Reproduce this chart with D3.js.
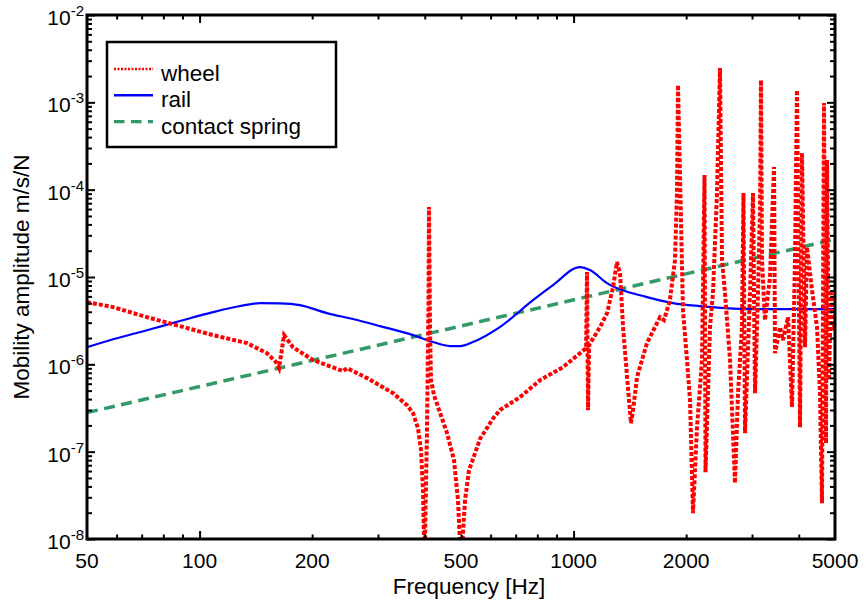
<!DOCTYPE html>
<html><head><meta charset="utf-8">
<script src="https://cdn.jsdelivr.net/npm/d3@7"></script>
<style>
body{margin:0;background:#fff}
svg{display:block}
text{font-family:"Liberation Sans",Arial,Helvetica,sans-serif;fill:#000}
</style>
</head><body>
<svg id="chart" width="866" height="603"></svg>
<script>
// ---------- data ----------
const xTickValues = [50, 100, 200, 500, 1000, 2000, 5000];
const xTickLabels = ["50", "100", "200", "500", "1000", "2000", "5000"];
const xMajorTicks = [100, 1000];
const xMinorTicks = [60, 70, 80, 90, 200, 300, 400, 500, 600, 700, 800, 900, 2000, 3000, 4000];
const yTickExponents = [-8, -7, -6, -5, -4, -3, -2];

const seriesNames = ["wheel", "rail", "contact spring"];

const railFreq = [50, 58.7, 72.3, 88.6, 108.6, 128.3, 145.1, 164, 185.6, 219,
  257, 303.6, 372, 421, 467, 497, 538, 635, 779, 881,
  1040, 1106, 1228, 1571, 1845, 2177, 2964, 4029, 5000];
const railAmp = [1.57e-6, 1.94e-6, 2.46e-6, 3.13e-6, 3.96e-6, 4.65e-6, 5.03e-6, 5.0e-6, 4.77e-6, 3.86e-6,
  3.30e-6, 2.74e-6, 2.16e-6, 1.80e-6, 1.62e-6, 1.62e-6, 1.80e-6, 2.67e-6, 5.43e-6, 8.07e-6,
  1.30e-5, 1.20e-5, 8.51e-6, 5.89e-6, 5.03e-6, 4.64e-6, 4.29e-6, 4.29e-6, 4.29e-6];

const springFreq = [50, 5000];
const springAmp = [2.8e-7, 2.7e-5];

const wheelFreq = [
  50, 58.7, 72.3, 88.6, 108.6, 133.9, 151.4, 160.1, 163.1, 168.2,
  177.7, 201.1, 241.8, 247.9, 280.4, 329, 358.5, 372.1, 383.7, 390.8,
  395.7, 399.4, 405.6, 409.4, 410.6, 413.2, 415.7, 423.4, 458.8, 478.9,
  490.9, 500, 512.5, 525.3, 562.2, 609, 635.8, 719.3, 813.2, 936.9,
  1040, 1080, 1086, 1093, 1100, 1177, 1229, 1275, 1306, 1331,
  1356, 1390, 1424, 1442, 1478, 1571, 1702, 1745, 1810, 1867,
  1890, 1902, 1926, 1961, 2010, 2048, 2086, 2138, 2205, 2239,
  2253, 2316, 2359, 2418, 2463, 2494, 2540, 2620, 2701, 2752,
  2820, 2846, 2873, 2963, 3018, 3056, 3112, 3151, 3170, 3190,
  3249, 3351, 3435, 3456, 3564, 3631, 3744, 3837, 3908, 3957,
  4031, 4081, 4157, 4208, 4340, 4476, 4559, 4615, 4673, 4730,
  4760, 4819, 4878, 4939, 5000];
const wheelAmp = [
  5.16e-6, 4.52e-6, 3.47e-6, 2.74e-6, 2.16e-6, 1.75e-6, 1.34e-6, 1.06e-6, 9.05e-7, 2.16e-6,
  1.57e-6, 1.12e-6, 8.36e-7, 9.05e-7, 6.95e-7, 4.68e-7, 3.41e-7, 2.76e-7, 1.86e-7, 1.04e-7,
  3.62e-8, 5e-9, 1.76e-7, 5.43e-6, 6.32e-5, 2.46e-6, 6.59e-7, 4.44e-7, 1.63e-7, 8.0e-8,
  2.78e-8, 5e-9, 2.78e-8, 6.14e-8, 1.4e-7, 2.4e-7, 3.0e-7, 4.21e-7, 6.59e-7, 9.29e-7,
  1.34e-6, 1.53e-6, 1.14e-5, 2.99e-7, 1.66e-6, 2.67e-6, 3.86e-6, 7.66e-6, 1.48e-5, 1.11e-5,
  2.67e-6, 7.13e-7, 2.12e-7, 2.99e-7, 7.13e-7, 1.75e-6, 3.47e-6, 3.21e-6, 5.43e-6, 1.56e-5,
  9.14e-5, 1.58e-3, 1.39e-4, 4.18e-6, 1.12e-6, 3.89e-7, 1.98e-8, 1.91e-7, 1.12e-6, 1.47e-4,
  5.82e-8, 2.67e-6, 6.54e-6, 9.14e-5, 2.47e-3, 1.56e-5, 6.54e-6, 1.12e-6, 4.36e-8, 4.68e-7,
  2.67e-6, 9.14e-5, 1.63e-7, 6.54e-6, 9.14e-5, 4.68e-7, 6.54e-6, 5.83e-5, 1.80e-3, 1.56e-5,
  3.21e-6, 9.97e-6, 1.82e-4, 1.34e-6, 2.67e-6, 1.89e-6, 3.47e-6, 3.24e-7, 1.56e-5, 1.38e-3,
  1.91e-7, 2.63e-4, 1.57e-6, 2.20e-5, 7.08e-6, 2.67e-6, 4.68e-7, 2.57e-8, 9.82e-4, 1.25e-7,
  2.18e-4, 6.59e-7, 7.08e-6, 2.46e-6, 2.96e-6];

// ---------- layout ----------
const svg = d3.select("#chart");
const L = 87, R = 835, T = 15, B = 539;
const x = d3.scaleLog().domain([50, 5000]).range([L, R]);
const y = d3.scaleLog().domain([1e-8, 1e-2]).range([B, T]);

const zip = (a, b) => a.map((v, i) => [v, b[i]]);
const line = d3.line().x(d => x(d[0])).y(d => y(d[1]));

svg.append("defs").append("clipPath").attr("id", "clip")
  .append("rect").attr("x", L).attr("y", T).attr("width", R - L).attr("height", B - T);

const plot = svg.append("g").attr("clip-path", "url(#clip)");

plot.append("path").datum(zip(springFreq, springAmp))
  .attr("d", line).attr("fill", "none").attr("stroke", "#339966")
  .attr("stroke-width", 3.5).attr("stroke-dasharray", "11,6.5");

plot.append("path").datum(zip(railFreq, railAmp))
  .attr("d", line.curve(d3.curveMonotoneX)).attr("fill", "none").attr("stroke", "#0000ff")
  .attr("stroke-width", 2.2);
line.curve(d3.curveLinear);

plot.append("path").datum(zip(wheelFreq, wheelAmp))
  .attr("d", line).attr("fill", "none").attr("stroke", "#ff0000")
  .attr("stroke-width", 4).attr("stroke-dasharray", "4,2");

// ---------- axes ----------
const yMajor = yTickExponents.map(e => Math.pow(10, e));
const yMinor = [];
for (let e = -8; e < -2; e++) for (let k = 2; k <= 9; k++) yMinor.push(k * Math.pow(10, e));

function styleAxis(g) {
  g.select(".domain").remove();
  g.selectAll(".tick line").attr("stroke", "#000").attr("stroke-width", 2);
  g.selectAll(".tick text").remove();
}
// bottom & top
svg.append("g").attr("transform", `translate(0,${B})`)
  .call(d3.axisBottom(x).tickValues(xMinorTicks).tickSize(-4.5)).call(styleAxis);
svg.append("g").attr("transform", `translate(0,${B})`)
  .call(d3.axisBottom(x).tickValues(xMajorTicks).tickSize(-8)).call(styleAxis);
svg.append("g").attr("transform", `translate(0,${T})`)
  .call(d3.axisTop(x).tickValues(xMinorTicks).tickSize(-4.5)).call(styleAxis);
svg.append("g").attr("transform", `translate(0,${T})`)
  .call(d3.axisTop(x).tickValues(xMajorTicks).tickSize(-8)).call(styleAxis);
// left & right
svg.append("g").attr("transform", `translate(${L},0)`)
  .call(d3.axisLeft(y).tickValues(yMinor).tickSize(-5)).call(styleAxis);
svg.append("g").attr("transform", `translate(${L},0)`)
  .call(d3.axisLeft(y).tickValues(yMajor).tickSize(-8)).call(styleAxis);
svg.append("g").attr("transform", `translate(${R},0)`)
  .call(d3.axisRight(y).tickValues(yMinor).tickSize(-5)).call(styleAxis);
svg.append("g").attr("transform", `translate(${R},0)`)
  .call(d3.axisRight(y).tickValues(yMajor).tickSize(-8)).call(styleAxis);

// frame
svg.append("rect").attr("x", L).attr("y", T).attr("width", R - L).attr("height", B - T)
  .attr("fill", "none").attr("stroke", "#000").attr("stroke-width", 3);

// x tick labels
svg.append("g").selectAll("text").data(xTickValues).join("text")
  .attr("x", d => x(d)).attr("y", B + 29)
  .attr("text-anchor", "middle").attr("font-size", 21)
  .text((d, i) => xTickLabels[i]);

// y tick labels with superscripts
const yl = svg.append("g").selectAll("text").data(yTickExponents).join("text")
  .attr("x", 84).attr("y", e => y(Math.pow(10, e)) + 10)
  .attr("text-anchor", "end").attr("font-size", 21);
yl.append("tspan").text("10");
yl.append("tspan").attr("font-size", 15).attr("dy", -9).text(e => String(e));

// axis titles
svg.append("text").attr("x", 469).attr("y", 594).attr("text-anchor", "middle")
  .attr("font-size", 22.5).text("Frequency [Hz]");
svg.append("text").attr("transform", `translate(29,${(T + B) / 2}) rotate(-90)`)
  .attr("text-anchor", "middle").attr("font-size", 22.5).text("Mobility amplitude m/s/N");

// ---------- legend ----------
const lg = svg.append("g");
lg.append("rect").attr("x", 107).attr("y", 42).attr("width", 229).attr("height", 105)
  .attr("fill", "#fff").attr("stroke", "#000").attr("stroke-width", 2.5);
const legendStyles = [
  {color: "#ff0000", width: 2.5, dash: "2,1.5"},
  {color: "#0000ff", width: 2.5, dash: null},
  {color: "#339966", width: 3.2, dash: "10.5,6.5"}
];
seriesNames.forEach((name, i) => {
  const cy = 69 + i * 26.3;
  const s = legendStyles[i];
  lg.append("line").attr("x1", 114).attr("x2", 153).attr("y1", cy).attr("y2", cy)
    .attr("stroke", s.color).attr("stroke-width", s.width)
    .attr("stroke-dasharray", s.dash);
  lg.append("text").attr("x", 161).attr("y", cy + 12).attr("font-size", 22.5).text(name);
});
</script>
</body></html>
